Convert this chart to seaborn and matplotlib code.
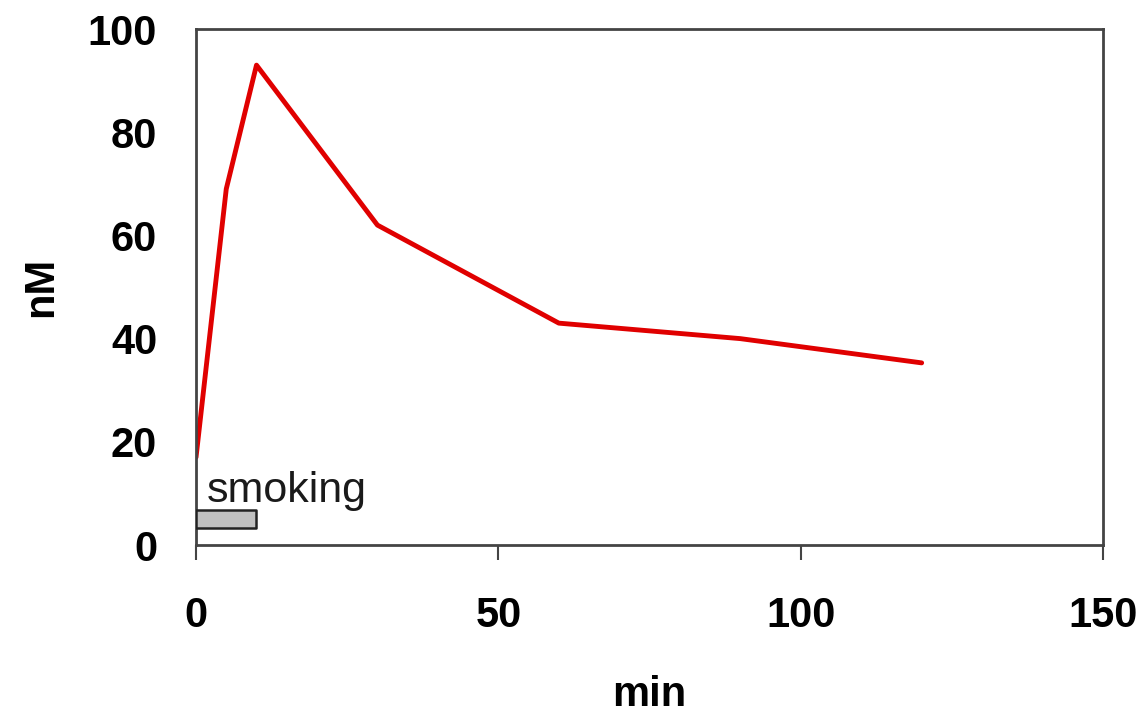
import pandas as pd
import matplotlib
matplotlib.use('Agg')
import matplotlib.pyplot as plt
import seaborn as sns

# values
minutes = [0, 5, 10, 30, 60, 90, 120]
conc_nM = [17, 69, 93, 62, 43, 40, 35.3]
smoking_start = 0
smoking_end = 10
smoking_low = 3.3
smoking_high = 6.8

df = pd.DataFrame({'min': minutes, 'nM': conc_nM})

sns.set_style('white')
plt.rcParams['font.family'] = ['Liberation Sans', 'DejaVu Sans']
plt.rcParams['text.color'] = 'black'
plt.rcParams['xtick.color'] = 'black'
plt.rcParams['ytick.color'] = 'black'
plt.rcParams['axes.labelcolor'] = 'black'

fig = plt.figure(figsize=(11.47, 7.18), dpi=100)
ax = fig.add_axes([0.1709, 0.2409, 0.7908, 0.7187])

sns.lineplot(data=df, x='min', y='nM', color='#e00000', linewidth=3.5, ax=ax)

# smoking period bar
ax.fill_between([smoking_start, smoking_end], smoking_low, smoking_high,
                facecolor='#c0c0c0', edgecolor='#222222', linewidth=1.8, zorder=3)
ax.text(1.8, 8.4, 'smoking', fontsize=31, color='#1a1a1a', va='baseline')

ax.set_xlim(0, 150)
ax.set_ylim(0, 100)
ax.set_xticks([0, 50, 100, 150])
ax.set_yticks([0, 20, 40, 60, 80, 100])
ax.tick_params(axis='x', direction='out', length=11, width=1.5, color='#444444',
               pad=26, labelsize=30, bottom=True)
ax.tick_params(axis='y', length=0, pad=28, labelsize=30, left=False)
for lab in ax.get_xticklabels() + ax.get_yticklabels():
    lab.set_fontweight('bold')

for side in ['left', 'right', 'top', 'bottom']:
    ax.spines[side].set_visible(True)
    ax.spines[side].set_color('#444444')
    ax.spines[side].set_linewidth(2)

ax.set_xlabel('min', fontsize=30, fontweight='bold', labelpad=28)
ax.set_ylabel('nM', fontsize=30, fontweight='bold', labelpad=19)

plt.savefig('out.png', dpi=100)
